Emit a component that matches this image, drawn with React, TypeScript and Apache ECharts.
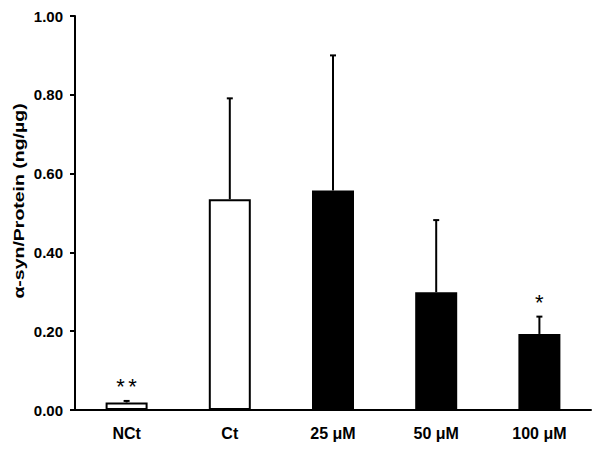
import React, { useEffect, useRef } from "react";
import * as echarts from "echarts";

const categories = ["NCt", "Ct", "25 μM", "50 μM", "100 μM"];
const means = [0.019, 0.535, 0.557, 0.299, 0.193];
const upperErrors = [0.023, 0.791, 0.9, 0.482, 0.237];
const significance = ["**", "", "", "", "*"];
const yTicks = [0, 0.2, 0.4, 0.6, 0.8, 1.0];
const filled = [false, false, true, true, true];

export default function App() {
  const ref = useRef<HTMLDivElement>(null);
  useEffect(() => {
    document.body.style.margin = "0";
    const chart = echarts.init(ref.current!, null, { renderer: "svg" });
    const font = "Arial, 'Liberation Sans', Helvetica, sans-serif";
    chart.setOption({
      animation: false,
      backgroundColor: "#ffffff",
      grid: { left: 75, top: 16, right: 10, bottom: 42 },
      xAxis: {
        type: "category",
        data: categories,
        axisLine: { lineStyle: { color: "#000", width: 2 } },
        axisTick: { show: false },
        axisLabel: {
          color: "#000",
          fontFamily: font,
          fontWeight: "bold",
          fontSize: 16,
          margin: 15,
        },
      },
      yAxis: {
        type: "value",
        min: yTicks[0],
        max: yTicks[yTicks.length - 1],
        interval: 0.2,
        axisLine: { show: true, lineStyle: { color: "#000", width: 2 } },
        axisTick: { show: true, inside: false, length: 5, lineStyle: { color: "#000", width: 2 } },
        splitLine: { show: false },
        axisLabel: {
          color: "#000",
          fontFamily: font,
          fontWeight: "bold",
          fontSize: 15,
          margin: 12,
          formatter: (v: number) => v.toFixed(2),
        },
      },
      graphic: [
        {
          type: "text",
          x: 19,
          y: 201,
          rotation: Math.PI / 2,
          scaleX: 1.3,
          style: {
            text: "α-syn/Protein (ng/µg)",
            fill: "#000",
            font: `bold 15px ${font}`,
            align: "center",
            verticalAlign: "middle",
          },
        },
      ],
      series: [
        {
          type: "bar",
          barWidth: 42,
          data: means.map((v, i) => ({
            value: v,
            itemStyle: {
              color: filled[i] ? "#000" : "#fff",
              borderColor: "#000",
              borderWidth: 2,
            },
          })),
        },
        {
          type: "custom",
          data: means.map((m, i) => [i, m, upperErrors[i]]),
          encode: { x: 0, y: 2 },
          z: 3,
          renderItem: (params: any, api: any) => {
            const i = api.value(0);
            const base = api.coord([i, api.value(1)]);
            const top = api.coord([i, api.value(2)]);
            const children: any[] = [
              {
                type: "line",
                shape: { x1: base[0], y1: base[1], x2: top[0], y2: top[1] },
                style: { stroke: "#000", lineWidth: 2 },
              },
              {
                type: "line",
                shape: { x1: top[0] - 3, y1: top[1], x2: top[0] + 3, y2: top[1] },
                style: { stroke: "#000", lineWidth: 2 },
              },
            ];
            const s = significance[params.dataIndex];
            const n = s.length;
            for (let k = 0; k < n; k++) {
              children.push({
                type: "text",
                x: top[0] + (k - (n - 1) / 2) * 12,
                y: top[1] - 14,
                style: {
                  text: s[k],
                  fill: "#000",
                  font: `22px ${font}`,
                  align: "center",
                  verticalAlign: "middle",
                },
              });
            }
            return { type: "group", children };
          },
        },
      ],
    });
    return () => chart.dispose();
  }, []);
  return <div ref={ref} style={{ width: 601, height: 452 }} />;
}
